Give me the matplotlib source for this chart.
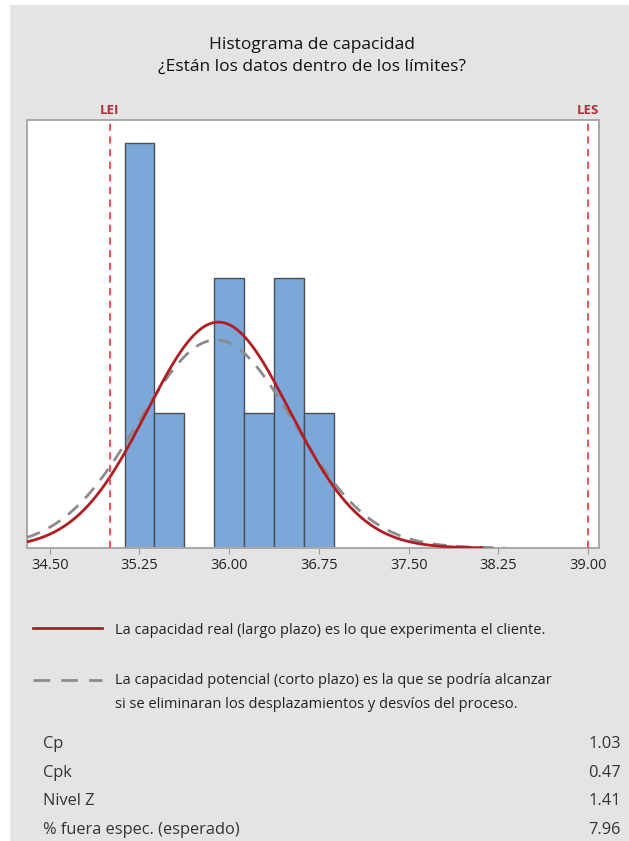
import numpy as np
import matplotlib
matplotlib.use("Agg")
import matplotlib.pyplot as plt
from matplotlib.patches import Rectangle

plt.rcParams['font.family'] = ['Open Sans', 'DejaVu Sans']

# histogram data (bins of 0.25)
bin_edges = [35.125, 35.375, 35.625, 35.875, 36.125, 36.375, 36.625, 36.875]
counts = [3, 1, 0, 2, 1, 2, 1]
n_obs = 10
bin_w = 0.25

# spec limits
lei = 35.0
les = 39.0

# fitted normal curves
mean_overall = 35.91
sd_overall = 0.596
mean_within = 35.89
sd_within = 0.647

xticks = [34.50, 35.25, 36.00, 36.75, 37.50, 38.25, 39.00]
xtick_labels = ["34.50", "35.25", "36.00", "36.75", "37.50", "38.25", "39.00"]

stat_names = ["Cp", "Cpk", "Nivel Z", "% fuera espec. (esperado)"]
stat_values = ["1.03", "0.47", "1.41", "7.96"]

W, H = 629, 841
fig = plt.figure(figsize=(W / 100, H / 100), dpi=100, facecolor="white")
fig.patches.append(Rectangle((10 / W, 0), 1, 1 - 5 / H, transform=fig.transFigure,
                             facecolor="#e4e4e4", edgecolor="none", zorder=-1))

ax = fig.add_axes([27 / W, 1 - 548 / H, 572 / W, 428 / H])
ax.set_facecolor("white")

ax.bar(bin_edges[:-1], counts, width=bin_w, align="edge", color="#7ba7d9",
       edgecolor="#4a4f57", linewidth=1.0, zorder=2)


def normal_curve(x, m, s):
    return n_obs * bin_w * np.exp(-0.5 * ((x - m) / s) ** 2) / (s * np.sqrt(2 * np.pi))


xr = np.linspace(34.31, 38.11, 300)
xw = np.linspace(34.31, 38.30, 300)
ax.plot(xw, normal_curve(xw, mean_within, sd_within), color="#8c8c8c", lw=2.0,
        ls=(0, (5, 3.5)), zorder=3)
ax.plot(xr, normal_curve(xr, mean_overall, sd_overall), color="#b01e23", lw=2.0, zorder=4)

for lim, lab in [(lei, "LEI"), (les, "LES")]:
    ax.axvline(lim, color="#e8474f", lw=1.3, ls=(0, (4, 3)), zorder=5)
    ax.text(lim, 1.008, lab, transform=ax.get_xaxis_transform(), ha="center", va="bottom",
            color="#a8343a", fontsize=9.5, fontweight="bold")

ax.set_xlim(34.31, 39.09)
ax.set_ylim(0, 3.17)
ax.set_yticks([])
ax.set_xticks(xticks)
ax.set_xticklabels(xtick_labels, fontsize=10.5, color="#222222")
ax.tick_params(axis="x", length=4, color="#9a9a9a", pad=3)
for sp in ax.spines.values():
    sp.set_color("#a8a8a8")
    sp.set_linewidth(1.4)

fig.text(312 / W, 1 - 45 / H, "Histograma de capacidad", ha="center", va="center",
         fontsize=12.5, color="#111111")
fig.text(312 / W, 1 - 67 / H, "¿Están los datos dentro de los límites?", ha="center",
         va="center", fontsize=12.5, color="#111111")

# legend / explanation
fig.add_artist(plt.Line2D([33 / W, 102 / W], [1 - 628 / H] * 2, color="#b01e23", lw=2.0))
fig.text(115 / W, 1 - 631 / H, "La capacidad real (largo plazo) es lo que experimenta el cliente.",
         ha="left", va="center", fontsize=10.5, color="#222222")
fig.add_artist(plt.Line2D([33 / W, 102 / W], [1 - 680 / H] * 2, color="#8c8c8c", lw=2.0,
                          ls=(0, (6, 4))))
fig.text(115 / W, 1 - 681 / H, "La capacidad potencial (corto plazo) es la que se podría alcanzar",
         ha="left", va="center", fontsize=10.5, color="#222222")
fig.text(115 / W, 1 - 704 / H, "si se eliminaran los desplazamientos y desvíos del proceso.",
         ha="left", va="center", fontsize=10.5, color="#222222")

# stats table
for i, (name, val) in enumerate(zip(stat_names, stat_values)):
    y = 1 - (744 + i * 28.7) / H
    fig.text(43 / W, y, name, ha="left", va="center", fontsize=11.8, color="#333333")
    fig.text(621 / W, y, val, ha="right", va="center", fontsize=11.8, color="#333333")

fig.savefig("out.png", dpi=100, facecolor=fig.get_facecolor())
